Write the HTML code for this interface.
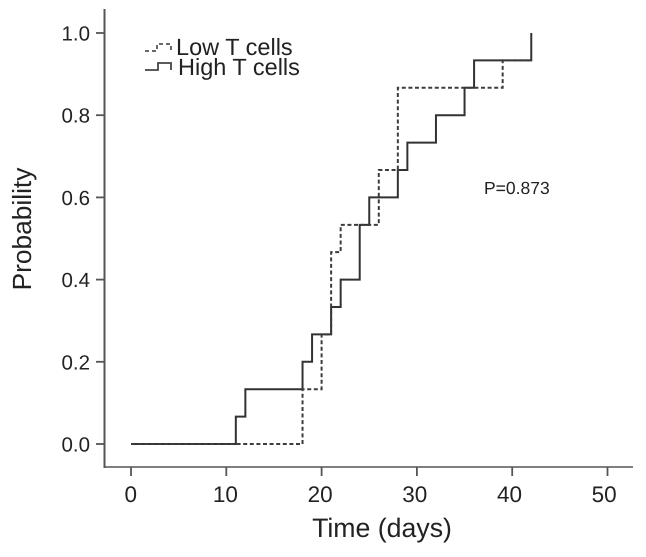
<!DOCTYPE html>
<html>
<head>
<meta charset="utf-8">
<style>
html,body{margin:0;padding:0;background:#fff;width:646px;height:557px;overflow:hidden}
svg{display:block}
text{font-family:"Liberation Sans",sans-serif;fill:#222;text-rendering:geometricPrecision}
</style>
</head>
<body>
<svg id="chart" width="646" height="557" viewBox="0 0 646 557" xmlns="http://www.w3.org/2000/svg">
<defs><filter id="soft" x="0" y="0" width="100%" height="100%"><feGaussianBlur stdDeviation="0.35"/></filter></defs>
<g filter="url(#soft)">
<rect x="0" y="0" width="646" height="557" fill="#fff"/>
<g id="axes"></g>
<g id="series"></g>
<g>
<path d="M145 51H157V44H171V50" fill="none" stroke="#555" stroke-width="1.8" stroke-dasharray="4 3"/>
<text x="176" y="55" font-size="23.5">Low T cells</text>
<path d="M145 70H158V63H171V70" fill="none" stroke="#444" stroke-width="1.8"/>
<text x="178" y="75" font-size="23.5">High T cells</text>
</g>
<text x="484" y="194" font-size="17.5">P=0.873</text>
<text x="382" y="537" font-size="26.7" text-anchor="middle">Time (days)</text>
<text transform="translate(31,229) rotate(-90)" font-size="26.3" text-anchor="middle">Probability</text>
</g>
</svg>
<script>
const xTicks = [0, 10, 20, 30, 40, 50];
const yTicks = ['0.0', '0.2', '0.4', '0.6', '0.8', '1.0'];
const lowTimes = [0, 18, 20, 21, 22, 26, 28, 39, 42];
const lowProb = [0, 0.1333, 0.2667, 0.4667, 0.5333, 0.6667, 0.8667, 0.9333, 0.9333];
const highTimes = [0, 11, 12, 18, 19, 21, 22, 24, 25, 28, 29, 32, 35, 36, 42];
const highProb = [0, 0.0667, 0.1333, 0.2, 0.2667, 0.3333, 0.4, 0.5333, 0.6, 0.6667, 0.7333, 0.8, 0.8667, 0.9333, 1];

const NS = 'http://www.w3.org/2000/svg';
const xScale = v => 131 + v * 9.53;
const xLabelPos = v => 130.7 + v * 9.47;
const yScale = v => 444 - v * 411;
const axes = document.getElementById('axes');
const series = document.getElementById('series');

function line(parent, x1, y1, x2, y2, w) {
  const l = document.createElementNS(NS, 'line');
  l.setAttribute('x1', x1);
  l.setAttribute('y1', y1);
  l.setAttribute('x2', x2);
  l.setAttribute('y2', y2);
  l.setAttribute('stroke', '#555');
  l.setAttribute('stroke-width', w);
  parent.appendChild(l);
  return l;
}
function label(parent, x, y, str, size, anchor) {
  const t = document.createElementNS(NS, 'text');
  t.setAttribute('x', x);
  t.setAttribute('y', y);
  t.setAttribute('font-size', size);
  t.setAttribute('text-anchor', anchor);
  t.textContent = str;
  parent.appendChild(t);
  return t;
}

const yAxisLine = line(axes, 104.5, 9, 104.5, 468, 2);


const xAxisLine = line(axes, 104, 467, 633, 467, 1.6);



xTicks.forEach(v => {
  const tick = line(axes, xScale(v), 467, xScale(v), 476, 1.8);
  
  
  const text = label(axes, xLabelPos(v), 502, String(v), 22.5, 'middle');
  
  
});
yTicks.forEach(s => {
  const y = yScale(parseFloat(s));
  const tick = line(axes, 96, y, 105, y, 1.8);
  
  
  const text = label(axes, 90, y + 7.5, s, 20.5, 'end');
  
  
});

function stepPath(times, probs) {
  let d = 'M' + xScale(times[0]) + ' ' + yScale(probs[0]);
  for (let i = 1; i < times.length; i++) {
    d += 'H' + xScale(times[i]) + 'V' + yScale(probs[i]);
  }
  return d;
}
const highPath = document.createElementNS(NS, 'path');
highPath.setAttribute('d', stepPath(highTimes, highProb));
highPath.setAttribute('fill', 'none');
highPath.setAttribute('stroke', '#333');
highPath.setAttribute('stroke-width', '2');


series.appendChild(highPath);
const lowPath = document.createElementNS(NS, 'path');
lowPath.setAttribute('d', stepPath(lowTimes, lowProb));
lowPath.setAttribute('fill', 'none');
lowPath.setAttribute('stroke', '#3c3c3c');
lowPath.setAttribute('stroke-width', '2');
lowPath.setAttribute('stroke-dasharray', '4 2.6');


series.appendChild(lowPath);
</script>
</body>
</html>
